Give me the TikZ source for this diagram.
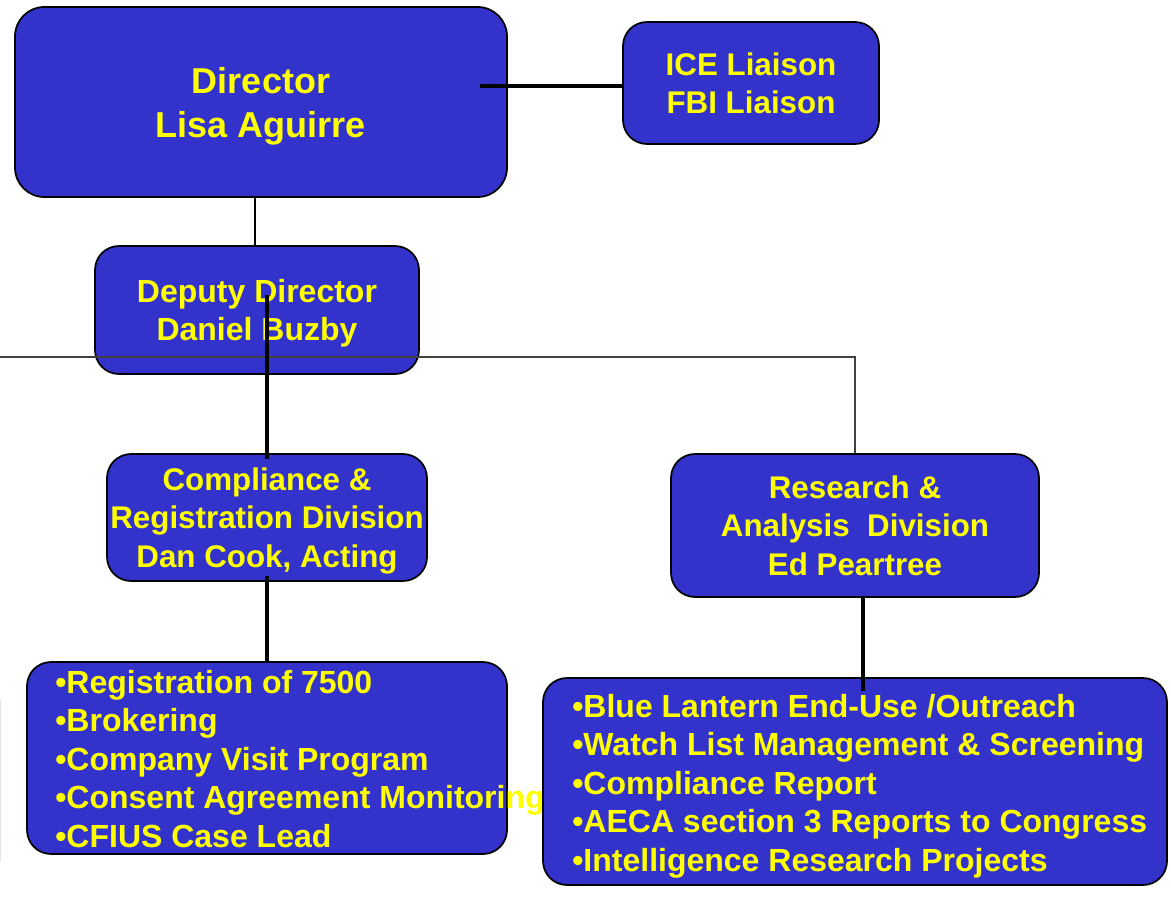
\documentclass[tikz,border=0pt]{standalone}
\usepackage{fontspec}
\setmainfont{Liberation Sans}
\definecolor{boxblue}{HTML}{3333CC}
\definecolor{txtyellow}{HTML}{FFFF00}

\begin{document}
\begin{tikzpicture}[
    x=0.75pt, y=-0.75pt,
    unit/.style = {
      draw=black, line width=1.3pt, fill=boxblue,
      rounded corners=18pt,
      inner sep=0pt,
      text=txtyellow, align=center,
      text depth=0pt,
      font=\bfseries\fontsize{23.5pt}{28.9pt}\selectfont,
    },
    items/.style = {
      text=txtyellow, align=left, anchor=west,
      inner sep=0pt,
      font=\bfseries\fontsize{24pt}{28.9pt}\selectfont,
    },
    link/.style = {line width=1.3pt},
    heavy/.style = {line width=2.4pt},
  ]
  \useasboundingbox (0,0) rectangle (1171,898);

  % top row
  \node[unit, rounded corners=22pt, minimum width=369pt, minimum height=142.5pt,
    text depth=-1.5pt,
    font=\bfseries\fontsize{27pt}{33pt}\selectfont] (director) at (261,102)
    {Director\\Lisa Aguirre};
  \node[unit, minimum width=192pt, minimum height=91.5pt] (liaison) at (751,83)
    {ICE Liaison\\FBI Liaison};

  \node[unit, minimum width=243pt, minimum height=96pt, text depth=-1.5pt,
    font=\bfseries\fontsize{24pt}{28.9pt}\selectfont] (deputy) at (257,310)
    {Deputy Director\\Daniel Buzby};

  % divisions
  \node[unit, minimum width=240pt, minimum height=95.25pt, text depth=-0.5pt] (compliance) at (267,517.5)
    {Compliance \&\\Registration Division\\Dan Cook, Acting};
  \node[unit, minimum width=276pt, minimum height=107.25pt] (research) at (855,525.5)
    {Research \&\\Analysis\ \ Division\\Ed Peartree};

  % task lists
  \node[unit, minimum width=360pt, minimum height=144pt] (regbox) at (267,758) {};
  \node[items] (reglist) at (55,759)
    {•Registration of 7500\\•Brokering\\•Company Visit Program\\
     •Consent Agreement Monitoring\\•CFIUS Case Lead};

  \node[unit, minimum width=468pt, minimum height=155.25pt] (rabox) at (855,781.5) {};
  \node[items] (ralist) at (572,786)
    {•Blue Lantern End-Use /Outreach\\•Watch List Management \& Screening\\
     •Compliance Report\\•AECA section 3 Reports to Congress\\
     •Intelligence Research Projects};

  % connectors
  \coordinate (dl) at (480,86);
  \draw[heavy] (dl) -- (dl -| liaison.west);

  \coordinate (dd) at (255,197);
  \draw[link] (dd) -- (dd |- deputy.north);

  \coordinate (lft) at (0,357);
  \draw[line width=0.9pt, black!75] (lft) -- (research.north |- lft) -- (research.north);

  \coordinate (cd) at (267,295);
  \draw[heavy] (cd) -- ([yshift=-4.5pt]compliance.north);
  \draw[heavy] ([yshift=4.5pt]compliance.south) -- (regbox.north);

  \draw[heavy] ([xshift=6pt]research.south) -- ([xshift=6pt, yshift=-10.5pt]rabox.north);

  \coordinate (st1) at (0.5,700);
  \coordinate (st2) at (0.5,862);
  \draw[gray!20, line width=1pt] (st1) -- (st2);
\end{tikzpicture}
\end{document}
